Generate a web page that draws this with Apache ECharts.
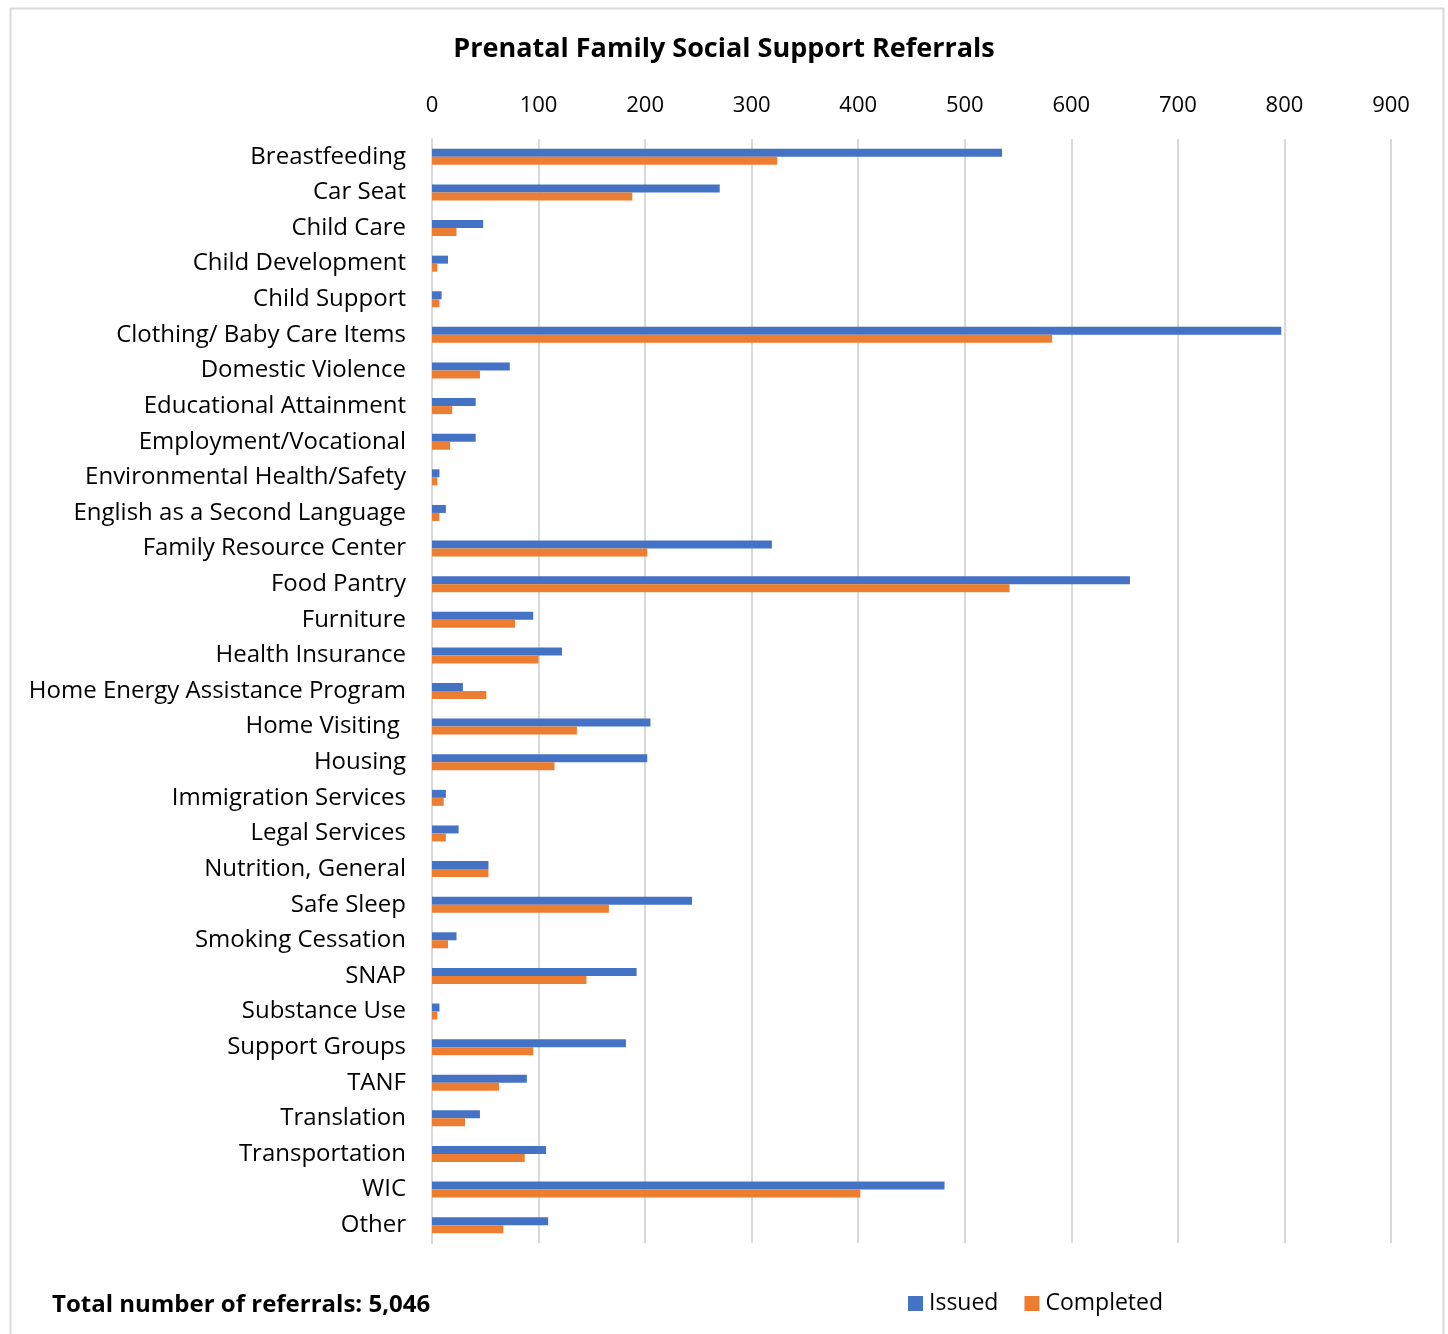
<!DOCTYPE html>
<html>
<head>
<meta charset="utf-8">
<title>Prenatal Family Social Support Referrals</title>
<script src="https://cdn.jsdelivr.net/npm/echarts@6/dist/echarts.min.js"></script>
<style>
  html, body { margin: 0; padding: 0; background: #ffffff; }
  #chart { width: 1448px; height: 1334px; }
</style>
</head>
<body>
<div id="chart"></div>
<script>
// Referral categories, top to bottom
const categories = [
  'Breastfeeding', 'Car Seat', 'Child Care', 'Child Development', 'Child Support',
  'Clothing/ Baby Care Items', 'Domestic Violence', 'Educational Attainment',
  'Employment/Vocational', 'Environmental Health/Safety', 'English as a Second Language',
  'Family Resource Center', 'Food Pantry', 'Furniture', 'Health Insurance',
  'Home Energy Assistance Program', 'Home Visiting ', 'Housing', 'Immigration Services',
  'Legal Services', 'Nutrition, General', 'Safe Sleep', 'Smoking Cessation', 'SNAP',
  'Substance Use', 'Support Groups', 'TANF', 'Translation', 'Transportation', 'WIC', 'Other'
];

// Referrals issued per category
const issued = [
  535, 270, 48, 15, 9,
  797, 73, 41,
  41, 7, 13,
  319, 655, 95, 122,
  29, 205, 202, 13,
  25, 53, 244, 23, 192,
  7, 182, 89, 45, 107, 481, 109
];

// Referrals completed per category
const completed = [
  324, 188, 23, 5, 7,
  582, 45, 19,
  17, 5, 7,
  202, 542, 78, 100,
  51, 136, 115, 11,
  13, 53, 166, 15, 145,
  5, 95, 63, 31, 87, 402, 67
];

const seriesNames = ['Issued', 'Completed'];
const xTicks = { min: 0, max: 900, interval: 100 };
const totalReferrals = issued.reduce((a, b) => a + b, 0);

const font = '"Open Sans", Lato, "Liberation Sans", sans-serif';
const chart = echarts.init(document.getElementById('chart'), null, { renderer: 'canvas' });

chart.setOption({
  backgroundColor: '#ffffff',
  animation: false,
  textStyle: { fontFamily: font },
  title: {
    text: 'Prenatal Family Social Support Referrals',
    left: 'center',
    top: 31,
    textStyle: { fontFamily: font, fontSize: 27, fontWeight: 'bold', color: '#000000' }
  },
  legend: {
    data: seriesNames,
    left: 903,
    top: 1287,
    itemWidth: 15,
    itemHeight: 15,
    itemGap: 26,
    icon: 'rect',
    textStyle: { fontFamily: font, fontSize: 23, color: '#000000', padding: [0, 0, 0, 1] }
  },
  grid: { left: 432, right: 57, top: 139, bottom: 91, containLabel: false },
  xAxis: {
    type: 'value',
    position: 'top',
    min: xTicks.min,
    max: xTicks.max,
    interval: xTicks.interval,
    axisLine: { show: false },
    axisTick: { show: false },
    axisLabel: { fontFamily: font, fontSize: 22, color: '#000000', margin: 22 },
    splitLine: { show: true, lineStyle: { color: '#d9d9d9', width: 2 } }
  },
  yAxis: {
    type: 'category',
    data: categories,
    inverse: true,
    axisLine: { show: true, lineStyle: { color: '#d9d9d9', width: 2 } },
    axisTick: { show: false },
    axisLabel: { fontFamily: font, fontSize: 24, color: '#000000', margin: 26, padding: [6, 0, 0, 0] }
  },
  series: [
    {
      name: seriesNames[0],
      type: 'bar',
      data: issued,
      barWidth: 8,
      barGap: '0%',
      itemStyle: { color: '#4472C4' }
    },
    {
      name: seriesNames[1],
      type: 'bar',
      data: completed,
      barWidth: 8,
      barGap: '0%',
      itemStyle: { color: '#ED7D31' }
    }
  ],
  graphic: [
    {
      type: 'rect',
      left: 8,
      top: 6,
      shape: { width: 1433, height: 1340 },
      style: { fill: 'none', stroke: '#d9d9d9', lineWidth: 2 },
      silent: true,
      z: -1
    },
    {
      type: 'text',
      left: 52,
      top: 1293,
      style: {
        text: 'Total number of referrals: ' + totalReferrals.toLocaleString('en-US'),
        fontFamily: font,
        fontSize: 24,
        fontWeight: 'bold',
        fill: '#000000'
      }
    }
  ]
});
</script>
</body>
</html>
